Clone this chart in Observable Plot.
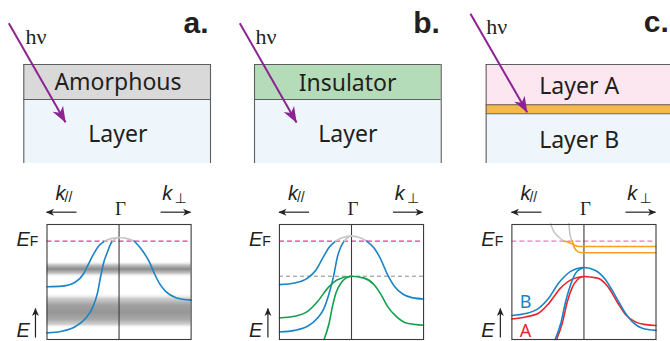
<!DOCTYPE html>
<html><head><meta charset="utf-8">
<script src="https://cdn.jsdelivr.net/npm/d3@7"></script>
<script src="https://cdn.jsdelivr.net/npm/@observablehq/plot@0.6"></script>
<style>html,body{margin:0;padding:0;background:#fff;overflow:hidden;} #chart svg{display:block;}</style>
</head><body><div id="chart"></div>
<script>
// ---------------- data ----------------
const panels = ["a", "b", "c"];
const textColor = "#231f20";
const beamColor = "#8c2392";

// cross-section sketches: lateral position (facet units) and depth (layer units)
const layers = [
  {panel: "a", name: "Amorphous", k1: -1.322, k2: 1.269, d1: 0, d2: 1.0, fill: "#d9d9d9"},
  {panel: "a", name: "Layer", k1: -1.322, k2: 1.269, d1: 1.0, d2: 2.83, fill: "#eef6fc"},
  {panel: "b", name: "Insulator", k1: -1.346, k2: 1.245, d1: 0, d2: 1.0, fill: "#b5dcb9"},
  {panel: "b", name: "Layer", k1: -1.346, k2: 1.245, d1: 1.0, d2: 2.83, fill: "#eef6fc"},
  {panel: "c", name: "Layer A", k1: -1.357, k2: 1.32, d1: 0, d2: 1.151, fill: "#fce6ef"},
  {panel: "c", name: "interface", k1: -1.357, k2: 1.32, d1: 1.151, d2: 1.409, fill: "#f5b84a"},
  {panel: "c", name: "Layer B", k1: -1.357, k2: 1.32, d1: 1.409, d2: 2.83, fill: "#eef6fc"}
];
const layerLabels = [
  {panel: "a", text: "Amorphous", k: -0.015, d: 0.511},
  {panel: "a", text: "Layer", k: -0.017, d: 2.009},
  {panel: "b", text: "Insulator", k: -0.055, d: 0.551},
  {panel: "b", text: "Layer", k: -0.051, d: 2.009},
  {panel: "c", text: "Layer A", k: -0.066, d: 0.646},
  {panel: "c", text: "Layer B", k: -0.066, d: 2.18}
];
const beams = [
  {panel: "a", k1: -1.53, d1: -1.18, k2: -0.743, d2: 1.649},
  {panel: "b", k1: -1.55, d1: -1.18, k2: -0.763, d2: 1.657},
  {panel: "c", k1: -1.575, d1: -1.449, k2: -0.788, d2: 1.363}
];
const photonLabels = [
  {panel: "a", text: "hν", k: -1.298, d: -0.791},
  {panel: "b", text: "hν", k: -1.332, d: -0.791},
  {panel: "c", text: "hν", k: -1.357, d: -1.077}
];
const panelLetters = [
  {panel: "a", text: "a.", k: 1.241, d: -1.18},
  {panel: "b", text: "b.", k: 1.226, d: -1.18},
  {panel: "c", text: "c.", k: 1.178, d: -1.197}
];

// band dispersions: [k, E] with E_F = 0
const aBroad = [[-1,-0.552],[-0.79,-0.545],[-0.6,-0.492],[-0.49,-0.392],[-0.42,-0.271],[-0.35,-0.151],[-0.28,-0.058],[-0.2,0],[-0.1,0.032],[0,0.042],[0.1,0.032],[0.21,0],[0.32,-0.111],[0.42,-0.251],[0.49,-0.392],[0.56,-0.512],[0.65,-0.612],[0.79,-0.684],[1,-0.714]];
const aNarrow = [[-1,-1.11],[-0.79,-1.09],[-0.6,-1.03],[-0.46,-0.93],[-0.37,-0.81],[-0.3,-0.63],[-0.26,-0.45],[-0.21,-0.25],[-0.16,-0.13],[-0.12,-0.04],[-0.09,0],[-0.045,0.03],[0,0.042]];
const bBlueBroad = [[-1,-0.527],[-0.79,-0.508],[-0.61,-0.448],[-0.49,-0.347],[-0.4,-0.207],[-0.31,-0.075],[-0.22,0],[-0.11,0.045],[0,0.06],[0.1,0.045],[0.21,0],[0.316,-0.087],[0.41,-0.227],[0.5,-0.407],[0.595,-0.547],[0.71,-0.64],[0.85,-0.687],[1,-0.7]];
const bBlueNarrow = [[-1,-1.1],[-0.79,-1.08],[-0.61,-1.03],[-0.47,-0.93],[-0.38,-0.81],[-0.31,-0.63],[-0.25,-0.43],[-0.195,-0.19],[-0.15,-0.075],[-0.1,0],[-0.05,0.043],[0,0.06]];
const bGreenBroad = [[-1,-0.93],[-0.79,-0.91],[-0.61,-0.85],[-0.47,-0.73],[-0.33,-0.569],[-0.195,-0.468],[0,-0.425],[0.176,-0.448],[0.315,-0.528],[0.41,-0.648],[0.5,-0.789],[0.62,-0.91],[0.76,-0.99],[1,-1.018]];
const bGreenNarrow = [[-0.38,-1.19],[-0.31,-0.99],[-0.264,-0.79],[-0.217,-0.63],[-0.147,-0.51],[-0.078,-0.448],[0,-0.425]];
const cBlueBroad = [[-1,-0.9],[-0.81,-0.877],[-0.625,-0.81],[-0.49,-0.69],[-0.35,-0.508],[-0.185,-0.367],[0,-0.319],[0.16,-0.355],[0.3,-0.467],[0.44,-0.669],[0.56,-0.85],[0.67,-0.974],[0.81,-1.054],[1,-1.08]];
const cRedBroad = [[-1,-0.942],[-0.81,-0.918],[-0.625,-0.87],[-0.49,-0.757],[-0.325,-0.569],[-0.16,-0.46],[0,-0.428],[0.19,-0.448],[0.33,-0.548],[0.47,-0.749],[0.58,-0.89],[0.72,-0.98],[0.86,-1.01],[1,-1.02]];
const cBlueNarrow = [[-0.4,-1.19],[-0.32,-0.99],[-0.254,-0.73],[-0.185,-0.528],[-0.115,-0.388],[-0.046,-0.335],[0,-0.319]];
const cRedNarrow = [[-0.38,-1.19],[-0.3,-0.99],[-0.23,-0.73],[-0.16,-0.557],[-0.092,-0.468],[-0.04,-0.435],[0,-0.428]];
const cStateUpper = [[-0.463,0.207],[-0.417,0.114],[-0.347,0.046],[-0.278,0],[-0.208,-0.018],[-0.139,-0.046],[-0.092,-0.063],[-0.04,-0.066],[1,-0.066]];
const cStateLower = [[-0.208,0.207],[-0.199,0.114],[-0.18,0.034],[-0.16,0],[-0.139,-0.066],[-0.106,-0.114],[-0.046,-0.139],[0,-0.142],[1,-0.142]];

const bands = [
  {panel: "a", name: "aBroad", points: aBroad, color: "#1a84c7"},
  {panel: "a", name: "aNarrow", points: aNarrow, color: "#1a84c7"},
  {panel: "b", name: "bBlueBroad", points: bBlueBroad, color: "#1a84c7"},
  {panel: "b", name: "bBlueNarrow", points: bBlueNarrow, color: "#1a84c7"},
  {panel: "b", name: "bGreenBroad", points: bGreenBroad, color: "#12a04e"},
  {panel: "b", name: "bGreenNarrow", points: bGreenNarrow, color: "#12a04e"},
  {panel: "c", name: "cRedBroad", points: cRedBroad, color: "#e8262d"},
  {panel: "c", name: "cBlueBroad", points: cBlueBroad, color: "#1a84c7"},
  {panel: "c", name: "cRedNarrow", points: cRedNarrow, color: "#e8262d"},
  {panel: "c", name: "cBlueNarrow", points: cBlueNarrow, color: "#1a84c7"},
  {panel: "c", name: "cStateUpper", points: cStateUpper, color: "#f6a01c"},
  {panel: "c", name: "cStateLower", points: cStateLower, color: "#f6a01c"}
];
const aboveFermiColor = "#c6c6c6";

const fermiLevels = [
  {panel: "a", E: 0, color: "#e8368f"},
  {panel: "b", E: 0, color: "#e8368f"},
  {panel: "c", E: 0, color: "#f274be"}
];
const valenceTop = [{panel: "b", E: -0.425}];
const greyBands = [
  {panel: "a", k1: -1, k2: 1, E1: -0.244, E2: -0.444, fill: "url(#band1)"},
  {panel: "a", k1: -1, k2: 1, E1: -0.634, E2: -1.058, fill: "url(#band2)"}
];
const layerTags = [
  {panel: "c", text: "B", k: -0.81, E: -0.745, color: "#1a84c7"},
  {panel: "c", text: "A", k: -0.81, E: -1.096, color: "#e8262d"}
];

// repeated labels in every panel
const gammaK = [0];
const bigItalic = [
  {text: "k", k: -0.882, E: 0.576},
  {text: "k", k: 0.6, E: 0.576},
  {text: "E", k: -1.424, E: 0.015},
  {text: "E", k: -1.424, E: -1.085}
];
const smallLabels = [
  {text: "//", k: -0.757, E: 0.532, style: "italic"},
  {text: "F", k: -1.239, E: -0.008, style: "normal"}
];
const perpLabel = [{text: "⊥", k: 0.854, E: 0.51}];
const gammaLabel = [{text: "Γ", k: 0.02, E: 0.392}];
const axisArrows = [
  {k1: -0.59, E1: 0.349, k2: -1.007, E2: 0.349},
  {k1: 0.576, E1: 0.349, k2: 0.993, E2: 0.349},
  {k1: -1.16, E1: -1.166, k2: -1.16, E2: -0.815}
];

// ---------------- tables ----------------
const topRows = [
  ...layers.map(d => ({kind: "layer", ...d})),
  ...layerLabels.map(d => ({kind: "label", ...d})),
  ...beams.map(d => ({kind: "beam", ...d})),
  ...photonLabels.map(d => ({kind: "hv", ...d})),
  ...panelLetters.map(d => ({kind: "letter", ...d}))
];

const bottomRows = [];
for (const b of bands) {
  const p = b.points;
  let seg = 0, cur = null;
  for (let i = 0; i < p.length - 1; i++) {
    const above = Math.max(p[i][1], p[i + 1][1]) > 0 && Math.min(p[i][1], p[i + 1][1]) >= 0;
    const color = above ? aboveFermiColor : b.color;
    if (cur !== color) {
      seg++; cur = color;
      bottomRows.push({kind: "curve", panel: b.panel, seg: b.name + seg, color, k: p[i][0], E: p[i][1]});
    }
    bottomRows.push({kind: "curve", panel: b.panel, seg: b.name + seg, color, k: p[i + 1][0], E: p[i + 1][1]});
  }
}
fermiLevels.forEach(d => bottomRows.push({kind: "ef", ...d}));
valenceTop.forEach(d => bottomRows.push({kind: "vb", ...d}));
greyBands.forEach(d => bottomRows.push({kind: "grey", ...d}));
layerTags.forEach(d => bottomRows.push({kind: "tag", ...d}));

// ---------------- plots ----------------
const fxScale = {domain: panels, paddingInner: 0.38, paddingOuter: 0, round: false, axis: null};
const common = {width: 670, marginLeft: 46.5, marginRight: 14.5, color: {type: "identity"}, style: {background: "white"}};
const is = k => d => d.kind === k;

const topPlot = Plot.plot({
  ...common,
  height: 170, marginTop: 0, marginBottom: 0,
  fx: fxScale,
  x: {domain: [-1, 1], axis: null},
  y: {domain: [-1.829, 3.029], reverse: true, axis: null},
  facet: {data: topRows, x: "panel"},
  marks: [
    Plot.rect(topRows, {filter: is("layer"), x1: "k1", x2: "k2", y1: "d1", y2: "d2", fill: "fill"}),
    Plot.ruleY(topRows, {filter: is("layer"), y: "d1", x1: "k1", x2: "k2", stroke: "#5e5e5e", strokeWidth: 1.1}),
    Plot.ruleX(topRows, {filter: is("layer"), x: "k1", y1: "d1", y2: "d2", stroke: "#5e5e5e", strokeWidth: 1.1}),
    Plot.ruleX(topRows, {filter: is("layer"), x: "k2", y1: "d1", y2: "d2", stroke: "#5e5e5e", strokeWidth: 1.1}),
    Plot.text(topRows, {filter: is("label"), x: "k", y: "d", text: "text", fontFamily: "Noto Sans", fontSize: 23, fill: textColor}),
    Plot.text(topRows, {filter: is("hv"), x: "k", y: "d", text: "text", textAnchor: "start", fontFamily: "Liberation Serif", fontSize: 22, fill: textColor}),
    Plot.text(topRows, {filter: is("letter"), x: "k", y: "d", text: "text", textAnchor: "end", fontFamily: "Liberation Sans", fontWeight: "bold", fontSize: 30, fill: textColor}),
    Plot.link(topRows, {filter: is("beam"), x1: "k1", y1: "d1", x2: "k2", y2: "d2", stroke: beamColor, strokeWidth: 2})
  ]
});

const bottomPlot = Plot.plot({
  ...common,
  height: 171, marginTop: 54, marginBottom: 2,
  fx: fxScale,
  x: {domain: [-1, 1], axis: null},
  y: {domain: [-1.19, 0.2], axis: null},
  facet: {data: bottomRows, x: "panel"},
  marks: [
    Plot.rect(bottomRows, {filter: is("grey"), x1: "k1", x2: "k2", y1: "E1", y2: "E2", fill: "fill"}),
    Plot.ruleY(bottomRows, {filter: is("ef"), y: "E", stroke: "color", strokeWidth: 1.3, strokeDasharray: "5,3"}),
    Plot.ruleY(bottomRows, {filter: is("vb"), y: "E", stroke: "#8a8a8a", strokeWidth: 1, strokeDasharray: "4,3"}),
    Plot.ruleX(gammaK, {x: d => d, stroke: "#3c3c3c", strokeWidth: 1.1}),
    Plot.line(bottomRows, {filter: is("curve"), x: "k", y: "E", z: "seg", stroke: "color", strokeWidth: 1.6, curve: "monotone-x"}),
    Plot.text(bottomRows, {filter: is("tag"), x: "k", y: "E", text: "text", fill: "color", fontFamily: "Noto Sans", fontSize: 18}),
    Plot.frame({stroke: "#3c3c3c", strokeWidth: 1.1}),
    Plot.text(bigItalic, {x: "k", y: "E", text: "text", textAnchor: "start", fontFamily: "Liberation Sans", fontStyle: "italic", fontSize: 20, fill: textColor}),
    Plot.text(smallLabels, {x: "k", y: "E", text: "text", textAnchor: "start", fontFamily: "Liberation Sans", fontStyle: d => d.style, fontSize: 14, fill: textColor}),
    Plot.text(perpLabel, {x: "k", y: "E", text: "text", fontFamily: "DejaVu Sans", fontSize: 14, fill: textColor}),
    Plot.text(gammaLabel, {x: "k", y: "E", text: "text", fontFamily: "Liberation Serif", fontSize: 19, fill: textColor}),
    Plot.link(axisArrows, {x1: "k1", y1: "E1", x2: "k2", y2: "E2", stroke: "#222222", strokeWidth: 1.2})
  ]
});

// gradients and filled arrowheads
function addMarker(defs, id, color, len, wid) {
  defs.append("marker").attr("id", id).attr("viewBox", `0 0 ${len} ${wid}`)
    .attr("refX", len - 0.5).attr("refY", wid / 2).attr("markerWidth", len).attr("markerHeight", wid)
    .attr("markerUnits", "userSpaceOnUse").attr("orient", "auto").attr("overflow", "visible")
    .append("path").attr("d", `M0,0L${len},${wid / 2}L0,${wid}L${len * 0.28},${wid / 2}Z`).attr("fill", color).attr("stroke", "none");
}
function applyMarker(svg, strokeColor, id) {
  svg.querySelectorAll("g").forEach(g => {
    if ((g.getAttribute("stroke") || "").toLowerCase() === strokeColor) {
      g.querySelectorAll("path, line").forEach(p => p.setAttribute("marker-end", `url(#${id})`));
    }
  });
}
const topDefs = d3.select(topPlot).insert("defs", ":first-child");
addMarker(topDefs, "headBeam", beamColor, 16, 12);
applyMarker(topPlot, beamColor, "headBeam");

const botDefs = d3.select(bottomPlot).insert("defs", ":first-child");
addMarker(botDefs, "headAxis", "#222222", 8, 7);
applyMarker(bottomPlot, "#222222", "headAxis");
function addGradient(id, stops) {
  const g = botDefs.append("linearGradient").attr("id", id).attr("x1", 0).attr("x2", 0).attr("y1", 0).attr("y2", 1);
  for (const [o, c, a] of stops) g.append("stop").attr("offset", o).attr("stop-color", c).attr("stop-opacity", a);
}
addGradient("band1", [[0, "#ffffff", 0], [0.25, "#c4c4c4", 1], [0.5, "#8a8a8a", 1], [0.75, "#c4c4c4", 1], [1, "#ffffff", 0]]);
addGradient("band2", [[0, "#ffffff", 0], [0.15, "#d0d0d0", 1], [0.35, "#a0a0a0", 1], [0.55, "#969696", 1], [0.75, "#a8a8a8", 1], [0.9, "#d4d4d4", 1], [1, "#ffffff", 0]]);

document.getElementById("chart").append(topPlot, bottomPlot);
</script>
</body></html>
